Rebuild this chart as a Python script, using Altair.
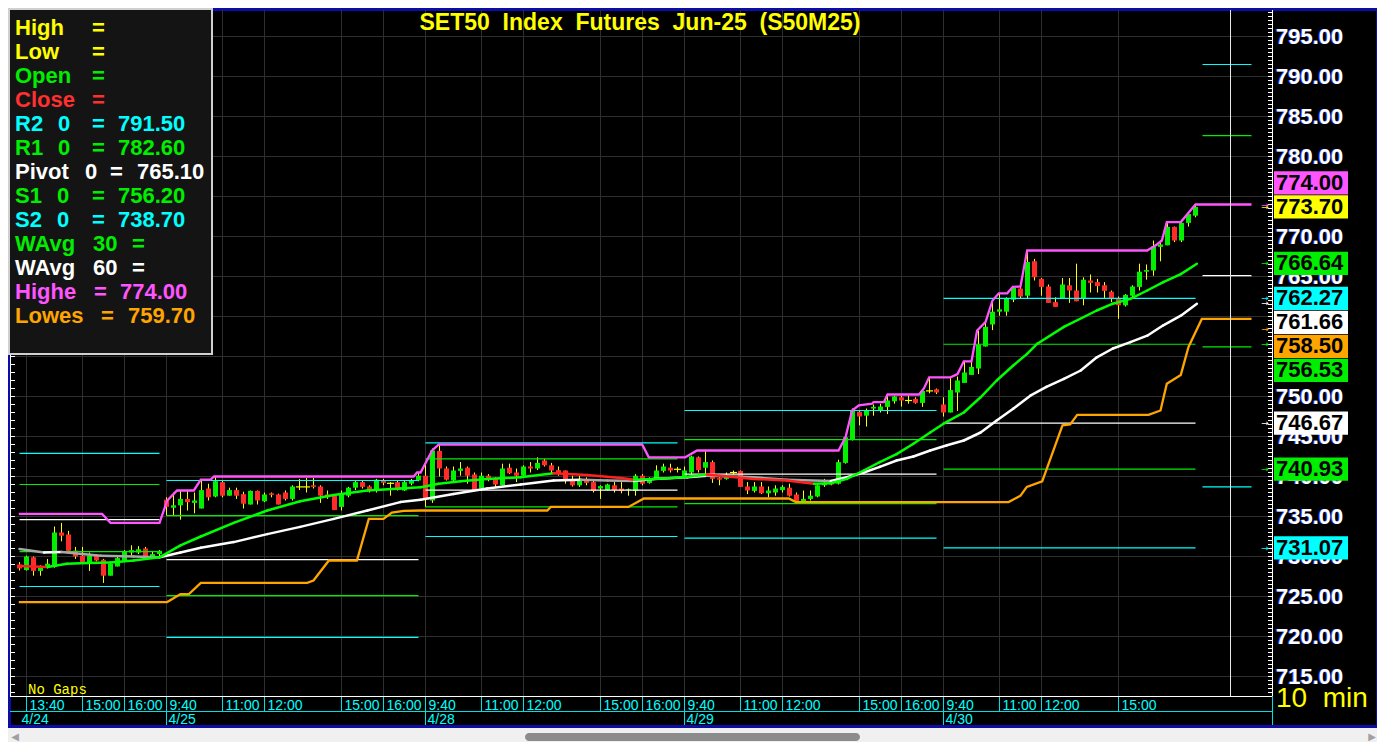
import altair as alt
import numpy as np
import pandas as pd

# ----------------------------------------------------------------------------
# Values (bar index g: 0 = 4/24 13:30, 10-minute bars)
# ----------------------------------------------------------------------------
bar_open = [
    729.0, 728.3, 729.9, 728.2, 728.6, 728.7, 733.0, 732.75, 730.75, 730.1,
    729.1, 730.1, 729.6, 727.6, 728.75, 729.5, 730.5, 730.5, 731.0, 730.0,
    730.3,
    737.1, 736.1, 736.4, 737.2, 736.7, 736.0, 738.5, 737.5, 739.3,
    737.6, 738.3, 737.8, 736.5, 738.2, 736.9, 737.9, 737.75, 738.0, 737.2,
    738.7, 738.7, 738.9, 738.75, 737.75, 737.6, 736.2, 737.6, 738.6, 739.3,
    738.75, 738.25, 739.5, 739.15, 739.3, 738.25, 739.1, 739.5,
    740.1, 737.0, 743.2, 741.0, 739.5, 740.7, 741.1, 740.25, 738.5, 740.1,
    739.8, 738.9, 741.1, 740.5, 740.1, 741.25, 741.0, 742.0, 741.4, 740.8,
    740.75, 739.6, 738.9, 739.7, 739.3, 738.5, 738.3, 738.9, 738.5, 738.3,
    738.2, 740.1, 739.2, 739.7, 740.7, 741.1, 740.9,
    740.0, 740.5, 742.4, 741.1, 741.8, 739.8, 739.7, 740.5, 740.7, 738.75,
    738.2, 738.75, 737.9, 738.0, 738.3, 738.6, 737.75, 736.8, 737.2, 737.5,
    738.9, 739.3, 739.1, 741.7, 744.6, 748.1, 747.6, 748.5, 748.25, 748.7,
    749.4, 749.9, 749.5, 749.7, 749.2, 750.7, 750.9,
    749.0, 748.0, 750.5, 751.7, 752.7, 753.5, 756.25, 759.0, 760.6, 760.6,
    762.1, 763.5, 762.6, 766.9, 764.7, 763.75, 761.8, 762.2, 763.9, 763.25,
    762.2, 764.5, 764.3, 763.9, 763.1, 762.3, 761.4, 762.6, 763.7, 765.6,
    765.75, 768.7, 768.9, 771.2, 769.5, 771.7, 772.6,
]
bar_high = [
    729.3, 730.1, 730.0, 728.9, 729.7, 733.75, 734.2, 733.2, 731.2, 731.2,
    730.5, 730.3, 729.7, 729.4, 730.1, 730.8, 731.4, 731.3, 731.2, 730.7,
    730.8,
    737.4, 738.0, 738.25, 738.25, 738.0, 739.6, 739.1, 740.0, 739.5,
    738.6, 738.6, 738.1, 738.25, 738.25, 738.0, 738.0, 737.85, 738.25, 738.9,
    739.7, 739.8, 739.8, 738.9, 738.25, 737.8, 738.25, 738.7, 739.5, 739.5,
    738.9, 739.7, 739.7, 739.3, 739.5, 739.5, 739.7, 740.5,
    741.6, 743.5, 744.0, 741.25, 741.25, 741.8, 741.25, 740.5, 740.5, 740.3,
    739.9, 741.6, 741.6, 741.0, 741.4, 741.8, 742.4, 742.2, 741.7, 741.25,
    740.75, 740.1, 740.1, 739.9, 739.5, 738.9, 739.1, 739.3, 739.3, 738.5,
    740.3, 740.3, 739.9, 741.4, 741.6, 741.6, 741.2,
    741.25, 742.6, 742.5, 743.2, 742.0, 739.9, 740.5, 740.75, 740.75, 739.3,
    739.3, 739.3, 738.75, 738.9, 738.9, 739.1, 738.0, 738.25, 738.25, 739.1,
    739.7, 739.5, 742.1, 745.0, 748.5, 748.25, 748.5, 749.0, 749.1, 750.25,
    750.1, 750.1, 750.1, 749.9, 750.8, 752.4, 751.0,
    749.9, 752.4, 752.5, 754.4, 754.3, 758.25, 759.3, 762.0, 762.9, 762.4,
    763.75, 763.7, 768.25, 767.2, 764.8, 764.0, 762.4, 764.8, 764.8, 766.6,
    764.9, 765.25, 764.7, 764.3, 763.25, 762.5, 762.8, 763.9, 766.6, 766.5,
    769.5, 769.5, 771.8, 771.25, 771.8, 773.0, 774.0,
]
bar_low = [
    728.25, 728.25, 727.6, 727.6, 728.5, 728.6, 731.9, 730.7, 729.7, 729.1,
    728.2, 729.4, 726.7, 727.6, 728.75, 729.4, 730.1, 730.3, 729.9, 729.7,
    730.0,
    735.1, 735.1, 734.6, 735.75, 735.4, 736.0, 737.0, 737.4, 737.4,
    737.6, 737.2, 736.0, 736.5, 736.5, 736.8, 737.4, 736.5, 737.0, 737.0,
    738.3, 738.0, 738.5, 736.7, 737.2, 735.8, 735.75, 737.4, 738.3, 738.5,
    738.0, 738.0, 738.9, 737.6, 738.25, 738.2, 738.9, 739.4,
    736.2, 736.7, 740.0, 739.5, 739.3, 740.1, 739.1, 738.25, 738.3, 739.4,
    738.7, 738.9, 740.3, 739.3, 740.0, 740.5, 740.8, 741.25, 740.4, 740.1,
    739.1, 738.75, 738.7, 738.9, 738.0, 737.2, 738.25, 738.0, 737.9, 737.6,
    737.6, 738.9, 739.1, 739.6, 740.5, 740.5, 740.5,
    739.8, 740.3, 740.5, 740.3, 739.2, 738.9, 739.6, 740.25, 738.7, 737.8,
    738.0, 737.8, 737.4, 737.6, 738.0, 737.5, 736.8, 736.8, 737.0, 737.4,
    738.7, 738.9, 739.0, 741.6, 744.5, 746.4, 746.25, 747.6, 748.0, 747.8,
    749.1, 748.75, 749.1, 749.1, 748.7, 750.4, 750.3,
    747.5, 748.0, 748.2, 751.7, 752.7, 752.8, 756.25, 758.3, 760.1, 760.1,
    761.8, 762.2, 762.2, 764.5, 762.6, 761.7, 761.2, 762.2, 761.7, 761.9,
    761.4, 763.0, 763.0, 762.3, 761.8, 759.7, 761.25, 762.2, 763.25, 764.6,
    765.1, 766.9, 768.9, 769.3, 769.3, 771.25, 772.4,
]
bar_close = [
    728.5, 730.0, 728.2, 728.6, 729.1, 733.0, 732.6, 730.7, 730.0, 729.3,
    730.1, 729.5, 727.6, 729.1, 729.8, 730.7, 730.8, 730.9, 730.0, 730.3,
    730.7,
    736.2, 736.4, 737.2, 736.8, 737.0, 738.3, 737.4, 739.4, 737.6,
    738.3, 737.6, 736.6, 738.2, 737.0, 737.75, 737.7, 736.5, 737.2, 738.75,
    738.7, 738.7, 738.7, 737.6, 737.4, 735.8, 737.75, 738.6, 739.3, 738.7,
    738.25, 739.6, 739.2, 739.15, 738.3, 739.3, 739.5, 740.1,
    737.2, 743.25, 741.0, 739.6, 740.75, 741.0, 740.1, 738.3, 740.1, 739.6,
    739.0, 741.0, 740.4, 740.1, 741.25, 741.0, 741.7, 741.4, 740.75, 740.3,
    739.6, 738.9, 739.6, 739.2, 738.2, 738.8, 739.0, 738.3, 738.2, 738.4,
    740.1, 739.1, 739.6, 740.75, 741.25, 740.75, 740.9,
    740.75, 742.5, 740.8, 741.8, 739.7, 739.6, 740.1, 740.5, 738.7, 738.25,
    738.75, 737.9, 738.25, 738.5, 738.7, 737.6, 736.9, 737.2, 737.6, 738.9,
    739.2, 739.0, 741.8, 744.9, 748.25, 747.5, 748.3, 748.7, 748.75, 749.5,
    750.0, 749.5, 749.5, 749.2, 750.7, 750.7, 750.5,
    748.0, 750.8, 752.0, 753.0, 753.7, 756.5, 758.7, 760.6, 760.9, 762.2,
    763.6, 762.5, 766.8, 764.9, 763.7, 761.7, 761.2, 764.0, 763.25, 761.9,
    764.6, 764.2, 763.8, 763.2, 762.3, 761.4, 762.7, 763.75, 765.6, 765.8,
    768.75, 769.0, 771.2, 769.5, 771.7, 772.8, 773.7,
]

time_tick_bars = [1, 9, 15, 21, 29, 35, 46, 52, 58, 66, 72, 83, 89,
                  95, 103, 109, 120, 126, 132, 140, 146, 157]
time_tick_labels = ["13:40", "15:00", "16:00",
                    "9:40", "11:00", "12:00", "15:00", "16:00",
                    "9:40", "11:00", "12:00", "15:00", "16:00",
                    "9:40", "11:00", "12:00", "15:00", "16:00",
                    "9:40", "11:00", "12:00", "15:00"]
date_bars = [0, 21, 58, 95, 132]
date_labels = ["4/24", "4/25", "4/28", "4/29", "4/30"]

# daily floor-trader pivots (last row = projection for the next session)
pivot_start = [0, 21, 58, 95, 132, 169]
pivot_end = [20, 57, 94, 131, 168, 176]
pivot_r2 = [742.9, 739.5, 744.2, 748.25, 762.27, 791.5]
pivot_r1 = [739.0, 735.1, 742.2, 744.6, 756.53, 782.6]
pivot_pp = [734.6, 729.6, 738.3, 740.3, 746.67, 765.1]
pivot_s1 = [730.6, 725.1, 736.2, 736.6, 740.93, 756.2]
pivot_s2 = [726.25, 719.9, 732.5, 732.3, 731.07, 738.7]

wavg30_bar = [0, 2, 4, 6.8, 9.7, 13, 16.3, 20, 23, 25.9,
              30.6, 35.4, 40.1, 44.9, 49.7, 54.4, 57.3, 59.9, 63, 66.8,
              71.6, 76.3, 81.1, 85.9, 87.8, 90.6, 94.9, 98.2, 104.9, 109.6,
              113.5, 115.9, 118.2, 120.6, 122.9, 125.3, 127.7, 130.1, 132, 134.9,
              137.3, 139.6, 142, 143.9, 145.4, 149.2, 153.9, 156.2, 158.7, 161.1,
              163.4, 165.9, 168.2]
wavg30_val = [728.8, 728.75, 728.7, 729.1, 729.2, 729.25, 729.5, 729.9, 731.4, 732.5,
              734.2, 735.75, 736.9, 737.7, 738.25, 738.5, 738.65, 739.1, 739.4, 739.7,
              739.9, 740.4, 740.2, 739.8, 739.6, 739.7, 739.9, 740.25, 739.7, 739.5,
              739.1, 739.15, 739.7, 740.75, 741.8, 742.8, 744.1, 745.5, 746.6, 748.0,
              749.9, 752.0, 753.9, 755.3, 756.6, 758.7, 760.75, 761.6, 762.2, 763.25,
              764.3, 765.3, 766.6]
wavg60_bar = [0, 3.5, 6, 11.6, 16.3, 20, 23, 25.9, 30.6, 35.4,
              40.1, 44.9, 49.7, 54.4, 57.3, 62, 66.8, 71.6, 76.3, 80.2,
              84, 87.8, 90.6, 95.4, 98.2, 104.9, 109.6, 115.9, 118.2, 120.6,
              122.9, 125.3, 127.7, 130.1, 132.5, 134.9, 137.3, 139.6, 142, 144.4,
              146.7, 149.2, 151.6, 153.9, 156.2, 158.7, 161.1, 163.4, 165.9, 168.2]
wavg60_val = [730.95, 730.5, 730.55, 730.1, 730.0, 729.9, 730.5, 731.1, 731.8, 732.8,
              733.7, 734.7, 735.75, 736.8, 737.1, 737.8, 738.5, 739.0, 739.5, 739.6,
              739.5, 739.45, 739.7, 739.9, 740.1, 739.9, 739.6, 739.45, 739.9, 740.5,
              741.2, 742.0, 742.5, 743.25, 743.9, 744.5, 745.5, 747.0, 748.5, 750.1,
              751.2, 752.2, 753.25, 754.9, 756.0, 756.8, 757.6, 758.9, 760.1, 761.6]
highest_bar = [-0.1, 11.8, 13, 20, 21.1, 22, 22.5, 24.9, 25.9, 27.3,
               27.8, 56.3, 56.8, 57.3, 58.95, 59.9, 88.95, 89.9, 95.1, 96.8,
               117.0, 118.0, 118.95, 119.9, 121.8, 122.0, 123.5, 124.0, 128.5, 129.2,
               129.95, 133.0, 134.0, 134.9, 136.0, 136.8, 138.0, 139.0, 139.9, 141.1,
               141.9, 143.0, 143.95, 161.1, 162.5, 163.2, 163.9, 165.9, 168.0, 176.0]
highest_val = [735.33, 735.33, 734.2, 734.2, 737.0, 737.8, 738.25, 738.25, 739.6, 739.6,
               740.0, 740.0, 740.5, 740.5, 743.25, 744.0, 744.0, 742.4, 742.4, 743.25,
               743.25, 744.9, 748.25, 748.9, 749.1, 749.3, 749.3, 750.25, 750.25, 751.0,
               752.4, 752.4, 752.8, 754.4, 754.4, 758.25, 759.3, 762.0, 762.9, 762.9,
               763.7, 763.75, 768.25, 768.25, 769.0, 769.5, 771.8, 771.8, 774.0, 774.0]
lowest_bar = [-0.1, 21.1, 23, 24.2, 25.9, 41.1, 42, 44.2, 48.2, 49.9,
              52, 53.2, 54.9, 57.3, 75.4, 75.9, 87, 89.2, 109.9, 110.9,
              141.3, 143, 143.9, 146.1, 149, 150.1, 151.1, 161.3, 163, 163.9,
              165.9, 167, 168.9, 176]
lowest_val = [724.3, 724.3, 725.3, 725.3, 726.7, 726.7, 727.0, 729.5, 729.5, 734.7,
              734.7, 735.5, 735.7, 735.75, 735.75, 736.2, 736.2, 737.25, 737.25, 736.8,
              736.8, 737.6, 738.7, 739.4, 746.4, 746.5, 747.7, 747.7, 748.25, 751.6,
              752.7, 756.2, 759.7, 759.7]

cursor_bar = [173]

y_tick_values = [715, 720, 725, 730, 735, 740, 745, 750, 755, 760, 765, 770, 775,
                 780, 785, 790, 795]

tag_values = [774.00, 773.70, 766.64, 762.27, 761.66, 758.50, 756.53, 746.67,
              740.93, 731.07]
tag_colors = ["#ff55ff", "#ffff00", "#00ee00", "#00ffff", "#ffffff", "#ffa500",
              "#00ee00", "#ffffff", "#00ee00", "#00ffff"]
tag_anchor = 1  # last price keeps its place, the others move aside

legend_names = ["High", "Low", "Open", "Close", "R2", "R1", "Pivot", "S1", "S2",
                "WAvg", "WAvg", "Highe", "Lowes"]
legend_periods = ["", "", "", "", "0", "0", "0", "0", "0", "30", "60", "", ""]
legend_values = ["", "", "", "", "791.50", "782.60", "765.10", "756.20", "738.70",
                 "", "", "774.00", "759.70"]
legend_colors = ["#ffff00", "#ffff00", "#00ee00", "#ff3030", "#00ffff", "#00ee00",
                 "#ffffff", "#00ee00", "#00ffff", "#00ee00", "#ffffff", "#ff55ff",
                 "#ffa500"]

title_text = "\u00a0\u00a0".join(["SET50", "Index", "Futures", "Jun-25", "(S50M25)"])

# ----------------------------------------------------------------------------
# layout (pixels inside the chart)
# ----------------------------------------------------------------------------
PW, PH = 1262, 686
FONT = "Liberation Sans"
GRID = "#2e2e2e"
legend_period_x = [0, 0, 0, 0, 48, 48, 75, 47, 47, 83, 83, 0, 0]
legend_eq_x = [82, 82, 82, 82, 82, 82, 100, 82, 82, 122, 122, 84, 91]
legend_val_x = [0, 0, 0, 0, 108, 108, 127, 108, 108, 0, 0, 110, 118]
TAG_HALF = 1.45     # half height of a price tag, in price units
TAG_GAP = 3.0       # minimum distance between two tags, in price units
LABEL_HALF = 0.9    # half height of a price label, in price units

xs = alt.Scale(domain=[-9.5 / 7, (PW - 9.5) / 7], nice=False, zero=False)
ys = alt.Scale(domain=[798.3125 - PH / 8, 798.3125], nice=False, zero=False)


def X(f):
    return alt.X(f, type="quantitative", scale=xs, axis=None)


def Y(f):
    return alt.Y(f, type="quantitative", scale=ys, axis=None)


def PX(f):
    return alt.X(f, type="quantitative", scale=None, axis=None)


def PY(f):
    return alt.Y(f, type="quantitative", scale=None, axis=None)


one = pd.DataFrame({"k": [0]})
layers = []

# frame + black background
layers.append(alt.Chart(one).mark_rect(fill="#000000", stroke="#0c0ca8", strokeWidth=3).encode(
    x=alt.value(-0.5), x2=alt.value(1367.5), y=alt.value(-0.5), y2=alt.value(716.5)))

# grid
layers.append(alt.Chart(pd.DataFrame({"v": y_tick_values})).mark_rule(
    color=GRID, strokeWidth=1).encode(y=Y("v"), x=alt.value(0), x2=alt.value(PW)))
layers.append(alt.Chart(pd.DataFrame({"g": time_tick_bars})).mark_rule(
    color=GRID, strokeWidth=1).encode(x=X("g"), y=alt.value(0), y2=alt.value(PH)))

# candles
bars = pd.DataFrame({"g": np.arange(len(bar_open)), "o": bar_open, "h": bar_high,
                     "l": bar_low, "c": bar_close})
diff = bars["c"] - bars["o"]
bars["col"] = np.where(diff > 0, "#00f000", "#ff2a2a")
body = bars[diff.abs() >= 0.06]
doji = bars[diff.abs() < 0.06]
layers.append(alt.Chart(bars).mark_rule(color="#ffff00", strokeWidth=1).encode(
    x=X("g"), y=Y("l"), y2="h"))
layers.append(alt.Chart(body).mark_rule(strokeWidth=5, strokeCap="butt").encode(
    x=X("g"), y=Y("o"), y2="c", color=alt.Color("col:N", scale=None)))
layers.append(alt.Chart(doji).mark_tick(orient="horizontal", size=7, thickness=1.2,
                                        color="#ffff00", opacity=1).encode(x=X("g"), y=Y("o")))

# pivot levels
piv_rows = []
for i in range(len(pivot_start)):
    for v, col in [(pivot_r2[i], "#00ffff"), (pivot_r1[i], "#00ee00"), (pivot_pp[i], "#ffffff"),
                   (pivot_s1[i], "#00ee00"), (pivot_s2[i], "#00ffff")]:
        piv_rows.append({"a": pivot_start[i], "b": pivot_end[i], "v": v, "col": col})
layers.append(alt.Chart(pd.DataFrame(piv_rows)).mark_rule(strokeWidth=1.2).encode(
    x=X("a"), x2="b", y=Y("v"), color=alt.Color("col:N", scale=None)))

# highest / lowest
layers.append(alt.Chart(pd.DataFrame({"g": lowest_bar, "v": lowest_val})).mark_line(
    color="#ffa500", strokeWidth=2.3).encode(x=X("g"), y=Y("v")))
layers.append(alt.Chart(pd.DataFrame({"g": highest_bar, "v": highest_val})).mark_line(
    color="#ff55ff", strokeWidth=2.3).encode(x=X("g"), y=Y("v")))


def segments(bx, bv, up, down):
    rows = []
    for i in range(len(bx) - 1):
        rows.append({"a": bx[i], "b": bx[i + 1], "v1": bv[i], "v2": bv[i + 1],
                     "col": down if bv[i + 1] < bv[i] else up})
    return pd.DataFrame(rows)


for bx, bv, up, down in [(wavg60_bar, wavg60_val, "#ffffff", "#a8a8a8"),
                         (wavg30_bar, wavg30_val, "#00ff00", "#ff2020")]:
    layers.append(alt.Chart(segments(bx, bv, up, down)).mark_rule(
        strokeWidth=2.5, strokeCap="round").encode(
        x=X("a"), x2="b", y=Y("v1"), y2="v2", color=alt.Color("col:N", scale=None)))

# cursor line
layers.append(alt.Chart(pd.DataFrame({"g": cursor_bar})).mark_rule(
    color="#e8e8e8", strokeWidth=1).encode(x=X("g"), y=alt.value(0), y2=alt.value(PH)))

# axis lines and ticks
layers.append(alt.Chart(one).mark_rule(color="#ffffff").encode(
    x=alt.value(0.5), y=alt.value(0), y2=alt.value(PH)))
layers.append(alt.Chart(one).mark_rule(color="#ffffff").encode(
    x=alt.value(PW + 0.5), y=alt.value(0), y2=alt.value(PH)))
layers.append(alt.Chart(one).mark_rule(color="#ffffff").encode(
    x=alt.value(0), x2=alt.value(PW + 1), y=alt.value(PH + 0.5)))
layers.append(alt.Chart(pd.DataFrame({"v": np.arange(713, 798.01, 1.0)})).mark_rule(
    color="#ffffff").encode(y=Y("v"), x=alt.value(0), x2=alt.value(5)))
layers.append(alt.Chart(pd.DataFrame({"v": np.arange(713, 798.01, 0.5)})).mark_rule(
    color="#ffffff").encode(y=Y("v"), x=alt.value(PW - 4), x2=alt.value(PW)))

# time strip
layers.append(alt.Chart(one).mark_rule(color="#00e0e0").encode(
    x=alt.value(0), x2=alt.value(PW + 1), y=alt.value(701.5)))
layers.append(alt.Chart(one).mark_rule(color="#00e0e0").encode(
    x=alt.value(PW + 0.5), y=alt.value(PH), y2=alt.value(715)))
layers.append(alt.Chart(pd.DataFrame({"g": time_tick_bars})).mark_rule(color="#00e0e0").encode(
    x=X("g"), y=alt.value(PH + 1), y2=alt.value(701)))
layers.append(alt.Chart(pd.DataFrame({"g": date_bars[1:]})).mark_rule(color="#00e0e0").encode(
    x=X("g"), y=alt.value(701), y2=alt.value(715)))
layers.append(alt.Chart(pd.DataFrame({"g": time_tick_bars, "t": time_tick_labels})).mark_text(
    align="left", baseline="alphabetic", dx=3, font=FONT, fontSize=14, color="#00ffff").encode(
    x=X("g"), y=alt.value(700), text="t:N"))
layers.append(alt.Chart(pd.DataFrame({"g": date_bars, "t": date_labels})).mark_text(
    align="left", baseline="alphabetic", dx=2, font=FONT, fontSize=14, color="#00ffff").encode(
    x=X("g"), y=alt.value(714), text="t:N"))

# value tags on the price scale: stack them so they do not overlap
pos = list(tag_values)
for i in range(tag_anchor - 1, -1, -1):
    pos[i] = max(pos[i], pos[i + 1] + TAG_GAP)
for i in range(tag_anchor + 1, len(pos)):
    pos[i] = min(pos[i], pos[i - 1] - TAG_GAP)

# price labels that lie wholly behind the tags are not drawn
tag_spans = sorted((p - TAG_HALF, p + TAG_HALF) for p in pos)
merged = []
for lo, hi in tag_spans:
    if merged and lo <= merged[-1][1] + 0.2:
        merged[-1][1] = max(merged[-1][1], hi)
    else:
        merged.append([lo, hi])
visible_ticks = [v for v in y_tick_values
                 if not any(lo <= v - LABEL_HALF and v + LABEL_HALF <= hi for lo, hi in merged)]

ylab = pd.DataFrame({"v": visible_ticks, "t": ["%.2f" % v for v in visible_ticks]})
layers.append(alt.Chart(ylab).mark_text(align="left", baseline="middle", dx=-1, font=FONT,
                                        fontSize=22, fontWeight="bold", color="#3050ff").encode(
    x=alt.value(PW + 4), y=Y("v"), text="t:N"))
layers.append(alt.Chart(ylab).mark_text(align="left", baseline="middle", font=FONT,
                                        fontSize=22, fontWeight="bold", color="#ffffff").encode(
    x=alt.value(PW + 4), y=Y("v"), text="t:N"))

tags = pd.DataFrame({"v": tag_values, "p": pos, "col": tag_colors,
                     "t": ["%.2f" % v for v in tag_values]})
tags["top"] = tags["p"] + TAG_HALF
tags["bot"] = tags["p"] - TAG_HALF
tags = tags.iloc[::-1]
layers.append(alt.Chart(tags).mark_rect().encode(
    x=alt.value(PW + 2), x2=alt.value(PW + 76), y=Y("top"), y2="bot",
    color=alt.Color("col:N", scale=None)))
layers.append(alt.Chart(tags).mark_text(align="left", baseline="middle", font=FONT, fontSize=22,
                                        fontWeight="bold", color="#000000").encode(
    x=alt.value(PW + 4), y=Y("p"), text="t:N"))
layers.append(alt.Chart(tags).mark_text(align="center", baseline="middle", font="DejaVu Sans",
                                        fontSize=9).encode(
    x=alt.value(PW - 7), y=Y("v"), text=alt.value("\u2192"),
    color=alt.Color("col:N", scale=None)))

# legend box
layers.append(alt.Chart(one).mark_rect(fill="#141414", stroke="#d0d0d0", strokeWidth=2).encode(
    x=alt.value(-1), x2=alt.value(202), y=alt.value(-1), y2=alt.value(344)))
pieces = []
for i, name in enumerate(legend_names):
    yy = 25 + 24 * i
    pieces.append({"t": name, "px": 5, "py": yy, "col": legend_colors[i]})
    if legend_periods[i]:
        pieces.append({"t": legend_periods[i], "px": legend_period_x[i], "py": yy,
                       "col": legend_colors[i]})
    pieces.append({"t": "=", "px": legend_eq_x[i], "py": yy, "col": legend_colors[i]})
    if legend_values[i]:
        pieces.append({"t": legend_values[i], "px": legend_val_x[i], "py": yy,
                       "col": legend_colors[i]})
layers.append(alt.Chart(pd.DataFrame(pieces)).mark_text(
    align="left", baseline="alphabetic", font=FONT, fontSize=22, fontWeight="bold").encode(
    x=PX("px"), y=PY("py"), text="t:N", color=alt.Color("col:N", scale=None)))

# title and captions
layers.append(alt.Chart(one).mark_text(text=title_text, align="center", baseline="alphabetic",
                                       font=FONT, fontSize=23, fontWeight="bold",
                                       color="#ffff00").encode(
    x=alt.value(630), y=alt.value(20)))
layers.append(alt.Chart(one).mark_text(text="No Gaps", align="left", baseline="alphabetic",
                                       font="Liberation Mono", fontSize=14,
                                       color="#ffff00").encode(
    x=alt.value(18), y=alt.value(684)))
layers.append(alt.Chart(one).mark_text(text="10\u00a0\u00a0min", align="left",
                                       baseline="alphabetic", font=FONT, fontSize=28,
                                       color="#ffff00").encode(
    x=alt.value(PW + 4), y=alt.value(697)))

# scrollbar
layers.append(alt.Chart(one).mark_rect(fill="#8c8c8c", cornerRadius=4).encode(
    x=alt.value(515), x2=alt.value(850), y=alt.value(723), y2=alt.value(731)))
layers.append(alt.Chart(one).mark_text(text="\u25c0", font="DejaVu Sans", fontSize=10,
                                       color="#a0a0a0").encode(x=alt.value(5), y=alt.value(727)))
layers.append(alt.Chart(one).mark_text(text="\u25b6", font="DejaVu Sans", fontSize=10,
                                       color="#a0a0a0").encode(x=alt.value(1362), y=alt.value(727)))

chart = alt.layer(*layers).resolve_scale(x="independent", y="independent").properties(
    width=PW, height=PH,
    padding={"left": 2, "top": 2, "right": 105, "bottom": 46},
    autosize=alt.AutoSizeParams(type="none"),
    background="#f0f0f0",
).configure_view(stroke=None)

chart.save("out.html", embed_options={"renderer": "svg", "actions": False})
